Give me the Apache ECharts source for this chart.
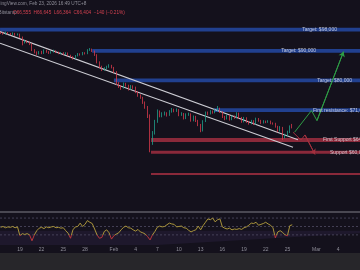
<!DOCTYPE html>
<html><head><meta charset="utf-8">
<script src="https://cdn.jsdelivr.net/npm/echarts@6/dist/echarts.min.js"></script>
<style>html,body{margin:0;padding:0;background:#14111c}#c{width:360px;height:270px}</style>
</head><body><div id="c"></div><script>
// time in days relative to Feb 1 2026 00:00; 8h candles from Jan 16 08:00
const startDay = -16 + 8/24;
const stepDay = 1/3;
const opens = [96.8,96.6,96.3,96.8,96.4,96.1,96.5,95.9,96.2,95.1,
 93.0,93.6,93.1,92.5,90.3,89.5,88.9,89.6,89.1,90.1,
 89.7,89.2,89.6,90.0,89.5,89.1,89.3,88.8,89.2,88.4,
 87.9,87.3,88.2,88.9,88.6,89.3,89.0,90.3,90.6,89.9,
 88.6,86.0,84.5,83.5,83.9,84.4,84.9,84.2,82.8,79.0,
 78.2,77.6,78.9,78.4,77.2,78.1,77.8,76.4,75.3,74.7,
 73.2,71.9,69.5,62.8,64.8,67.8,70.5,69.4,69.9,70.1,
 69.6,70.6,71.2,70.7,71.1,69.7,70.0,68.7,69.8,69.9,
 68.1,69.2,68.0,67.0,65.4,67.9,70.2,70.0,70.6,70.4,
 70.9,71.5,70.5,69.1,68.6,69.5,68.4,69.2,68.9,70.1,
 68.9,67.8,68.8,67.8,67.3,68.0,67.2,68.6,68.1,67.5,
 67.9,67.7,67.9,67.4,67.3,66.5,65.4,66.2,64.0,64.2,
 65.0,66.4];
const closes = [96.6,96.3,96.8,96.4,96.1,96.5,95.9,96.2,95.1,93.0,
 93.6,93.1,92.5,90.3,89.5,88.9,89.6,89.1,90.1,89.7,
 89.2,89.6,90.0,89.5,89.1,89.3,88.8,89.2,88.4,87.9,
 87.3,88.2,88.9,88.6,89.3,89.0,90.3,90.6,89.9,88.6,
 86.0,84.5,83.5,83.9,84.4,84.9,84.2,82.8,79.0,78.2,
 77.6,78.9,78.4,77.2,78.1,77.8,76.4,75.3,74.7,73.2,
 71.9,69.5,62.8,64.8,67.8,70.5,69.4,69.9,70.1,69.6,
 70.6,71.2,70.7,71.1,69.7,70.0,68.7,69.8,69.9,68.1,
 69.2,68.0,67.0,65.4,67.9,70.2,70.0,70.6,70.4,70.9,
 71.5,70.5,69.1,68.6,69.5,68.4,69.2,68.9,70.1,68.9,
 67.8,68.8,67.8,67.3,68.0,67.2,68.6,68.1,67.5,67.9,
 67.7,67.9,67.4,67.3,66.5,65.4,66.2,64.0,64.2,65.0,
 66.4,66.3];
const highs = [97.1,96.9,97.2,97.0,96.7,96.9,96.7,96.5,96.4,95.3,
 94.0,93.9,93.4,92.7,90.6,89.8,89.9,90.0,90.5,90.4,
 89.9,89.9,90.4,90.2,89.7,89.6,89.5,89.5,89.4,88.6,
 88.1,88.5,89.2,89.1,89.6,89.5,90.6,91.0,90.8,90.1,
 88.8,86.3,84.8,84.3,84.8,85.3,85.1,84.4,83.0,79.4,
 78.5,79.3,79.2,78.6,78.5,78.4,78.0,76.6,75.6,74.9,
 73.5,72.2,69.8,65.3,68.3,71.2,70.9,70.4,70.6,70.4,
 71.0,71.6,71.4,71.5,71.3,70.4,70.2,70.1,70.3,70.1,
 69.5,69.4,68.3,67.2,68.2,70.6,70.6,71.0,70.9,71.3,
 72.2,71.7,70.7,69.4,69.8,69.7,69.5,69.5,70.4,70.3,
 69.1,69.1,69.0,68.0,68.3,68.2,68.9,68.8,68.3,68.2,
 68.1,68.2,68.1,67.6,67.5,66.7,66.6,66.4,64.6,65.4,
 66.8,67.2];
const lows = [96.3,96.0,96.1,96.1,95.8,95.9,95.6,95.7,94.8,92.0,
 92.7,92.8,92.1,89.9,89.1,88.4,88.7,88.8,88.9,89.3,
 88.9,89.0,89.4,89.2,88.8,88.9,88.5,88.6,88.1,87.5,
 86.9,87.1,88.0,88.3,88.4,88.7,88.8,90.0,89.6,88.2,
 85.6,84.0,83.0,83.1,83.6,84.1,83.9,82.4,78.5,77.6,
 77.0,77.4,78.0,76.8,77.0,77.3,76.0,74.9,74.3,72.8,
 71.4,68.8,60.0,61.8,64.4,67.5,69.0,69.0,69.5,69.2,
 69.4,70.3,70.4,70.5,69.3,69.4,68.4,68.5,69.4,67.8,
 67.9,67.7,66.6,65.0,65.2,67.7,69.6,69.8,70.0,70.1,
 70.7,70.2,68.8,68.2,68.4,68.1,68.2,68.6,68.7,68.6,
 67.5,67.6,67.5,67.0,67.1,66.9,67.0,67.8,67.2,67.3,
 67.4,67.5,67.1,67.0,66.2,65.0,65.2,63.0,63.4,63.9,
 64.8,66.0];
const rsi = [48,50,47,49,48,50,47,49,28,33,
 31,33,30,16,30,40,46,48,45,49,
 47,49,50,47,48,46,47,40,34,22,
 42,49,50,58,50,55,64,60,57,44,
 30,22,24,38,42,35,20,28,32,35,
 42,48,51,47,46,42,39,43,37,35,
 32,26,18,30,38,48,51,49,50,54,
 58,56,55,49,50,51,47,46,41,37,
 40,42,51,42,52,60,68,66,70,61,
 66,68,49,46,44,46,42,44,43,45,
 43,47,49,53,58,57,60,53,55,57,
 60,56,53,47,23,37,40,36,30,28,
 52,54];
const rsiBands = [30,50,70];
const tickDays = [-13,-10,-7,-4,0,3,6,9,12,15,18,21,24,28,31];
const tickLabels = ['19','22','25','28','Feb','4','7','10','13','16','19','22','25','Mar','4'];
const channelUpper = [[-15.75,97.2],[25.46,63.1]];
const channelLower = [[-15.75,92.8],[24.77,61.2]];
const bullPath = [[24.99,65.0],[27.33,70.9],[28.09,68.1],[31.76,89.7]];
const bearPath = [[24.77,65.0],[25.88,63.0],[26.43,64.3],[27.81,59.5]];
const resistPrices = [98,90,80,71];
const resistStart = [-15.75,-3.0,0,13.85];
const resistLabels = ['Target: $98,000','Target: $90,000','Target: $80,000','First resistance: $71,000'];
const supportPrices = [63,60,55];
const supportStart = [5.13,5.13,5.13];
const supportLabels = ['First Support $64,000','Support $60,000',''];
const headerSource = 'TradingView.com, Feb 23, 2026 16:49 UTC+8';
const headerExchange = 'Bitstamp';
const headerOHLC = 'O66,555  H66,645  L66,364  C66,404  \u2212140 (\u22120.21%)';

const X_MIN = -15.754, X_MAX = 34.04;
const FONT = 'Liberation Sans';
const labelAnchorR = [30.85,27.95,32.94,27.54];
const labelAlignR = ['left','left','left','right'];
const labelAnchorS = [28.92,29.89];

const chart = echarts.init(document.getElementById('c'), null, {renderer:'canvas'});
const candles = closes.map((c,i)=>[startDay+i*stepDay, opens[i], c, lows[i], highs[i]]);
const rsiData = rsi.map((v,i)=>[startDay+i*stepDay, v]);

const series = [];
series.push({type:'candlestick', xAxisIndex:0, yAxisIndex:0, data:candles,
  encode:{x:0, y:[1,2,3,4]}, barWidth:1.3, z:4,
  itemStyle:{color:'#1f9e8a', color0:'#d4394a', borderColor:'#1f9e8a', borderColor0:'#d4394a', borderWidth:0.8}});
resistPrices.forEach((p,k)=>{
  series.push({type:'line', xAxisIndex:0, yAxisIndex:0, data:[[resistStart[k],p],[X_MAX,p]],
    symbol:'none', silent:true, z:1, lineStyle:{color:'#21408f', width:3.8}});
});
const redW = [4,3,2.2];
supportPrices.forEach((p,k)=>{
  series.push({type:'line', xAxisIndex:0, yAxisIndex:0, data:[[supportStart[k],p],[X_MAX,p]],
    symbol:'none', silent:true, z:1, lineStyle:{color:'#8a293a', width:redW[k]}});
});
[channelUpper, channelLower].forEach(ch=>{
  series.push({type:'line', xAxisIndex:0, yAxisIndex:0, data:ch, symbol:'none', silent:true, z:3,
    lineStyle:{color:'#cdcdd4', width:1.1}});
});
series.push({type:'line', xAxisIndex:0, yAxisIndex:0, data:bullPath, symbol:'none', z:5,
  lineStyle:{color:'#2e9c45', width:1}});
series.push({type:'lines', coordinateSystem:'cartesian2d', xAxisIndex:0, yAxisIndex:0, z:5,
  symbol:['none','arrow'], symbolSize:5,
  lineStyle:{color:'#2e9c45', width:1, opacity:1},
  data:[{coords:[bullPath[2], bullPath[3]]}]});
series.push({type:'line', xAxisIndex:0, yAxisIndex:0, data:bearPath, symbol:'none', z:5,
  lineStyle:{color:'#a3303e', width:1}});
series.push({type:'lines', coordinateSystem:'cartesian2d', xAxisIndex:0, yAxisIndex:0, z:5,
  symbol:['none','arrow'], symbolSize:5,
  lineStyle:{color:'#a3303e', width:1, opacity:1},
  data:[{coords:[bearPath[2], bearPath[3]]}]});
const lblStyle = {show:true, color:'#e4e4ec', fontSize:5, fontFamily:FONT, distance:0, formatter:p=>p.name};
const labelItems = [];
resistPrices.forEach((p,k)=>labelItems.push({name:resistLabels[k], value:[labelAnchorR[k],p],
  label:{position: labelAlignR[k]==='left' ? 'left' : 'right'}}));
supportLabels.forEach((t,k)=>{ if(t) labelItems.push({name:t, value:[labelAnchorS[k],supportPrices[k]], label:{position:'right'}}); });
series.push({type:'scatter', xAxisIndex:0, yAxisIndex:0, symbolSize:0, z:6, silent:true,
  label:lblStyle, data:labelItems});
// RSI 30-70 band
series.push({type:'line', xAxisIndex:1, yAxisIndex:1, data:[[X_MIN,rsiBands[0]],[X_MAX,rsiBands[0]]],
  symbol:'none', silent:true, z:1, stack:'band', lineStyle:{width:0}, areaStyle:{opacity:0}});
series.push({type:'line', xAxisIndex:1, yAxisIndex:1, data:[[X_MIN,rsiBands[2]-rsiBands[0]],[X_MAX,rsiBands[2]-rsiBands[0]]],
  symbol:'none', silent:true, z:1, stack:'band', lineStyle:{width:0}, areaStyle:{color:'rgba(126,87,194,0.14)'}});
rsiBands.forEach(v=>{
  series.push({type:'line', xAxisIndex:1, yAxisIndex:1, data:[[X_MIN,v],[X_MAX,v]], symbol:'none', silent:true, z:2,
    lineStyle:{color:'#4f4c63', type:[2,2], width:0.8}});
});
const rsiGrad = new echarts.graphic.LinearGradient(0,213,0,245,[
  {offset:0,color:'#a8933a'},{offset:0.684,color:'#a8933a'},{offset:0.684,color:'#b8363c'},{offset:1,color:'#b8363c'}], true);
series.push({type:'line', xAxisIndex:1, yAxisIndex:1, data:rsiData, symbol:'none', z:3,
  lineStyle:{width:1, color:rsiGrad}});

chart.setOption({
  backgroundColor:'#14111c',
  animation:false,
  grid:[{left:0,right:0,top:22,height:190},{left:0,right:0,top:213,height:32}],
  xAxis:[
    {gridIndex:0, type:'value', min:X_MIN, max:X_MAX, show:false},
    {gridIndex:1, type:'value', min:X_MIN, max:X_MAX,
      axisLine:{show:false}, axisTick:{show:false}, splitLine:{show:false},
      axisLabel:{customValues:tickDays, color:'#8f8e99', fontSize:5, margin:2, fontFamily:FONT,
        formatter:v=>{const k=tickDays.indexOf(Math.round(v)); return k>=0?tickLabels[k]:'';}}}
  ],
  yAxis:[
    {gridIndex:0, type:'log', logBase:10, min:47.25, max:101, show:false},
    {gridIndex:1, type:'value', min:6, max:82, show:false}
  ],
  series:series,
  graphic:[
    {type:'text', left:-9, top:1.5, silent:true, style:{text:headerSource, fill:'#8f8e99', font:'4.7px '+FONT}},
    {type:'text', left:-1.5, top:10, silent:true, style:{text:headerExchange, fill:'#8f8e99', font:'4.7px '+FONT}},
    {type:'text', left:13, top:10, silent:true, style:{text:headerOHLC, fill:'#d3414f', font:'4.7px '+FONT}},
    {type:'rect', shape:{x:0,y:211.3,width:360,height:1.5}, silent:true, style:{fill:'#5c5b64'}},
    {type:'rect', shape:{x:0,y:253,width:360,height:17}, silent:true, style:{fill:'#27262a'}}
  ]
});
</script></body></html>
